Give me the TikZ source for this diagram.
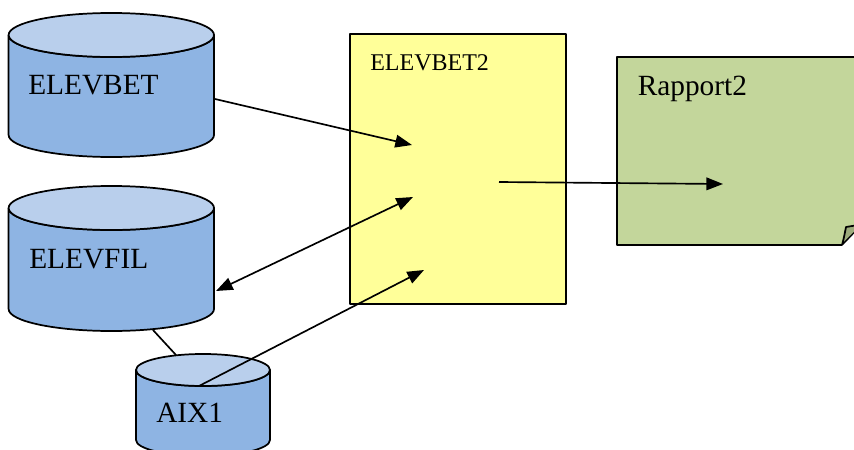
\documentclass[tikz,border=0pt]{standalone}
\usepackage{fontspec}
\setmainfont{Liberation Serif}
\usetikzlibrary{arrows.meta}
\definecolor{cylside}{HTML}{8EB4E3}
\definecolor{cyltop}{HTML}{B9CFEC}
\definecolor{notefill}{HTML}{C3D69B}
\definecolor{foldfill}{HTML}{9CAB7C}
\definecolor{boxfill}{HTML}{FFFF99}
\tikzset{
  outline/.style={draw=black,line width=1.3pt,line join=round},
  label/.style={anchor=base west,inner sep=0pt,text=black,font=\fontsize{22pt}{24pt}\selectfont},
  smalllabel/.style={label,font=\fontsize{18pt}{20pt}\selectfont},
  link/.style={draw=black,line width=1.25pt},
  arrow/.style={link,-{Triangle[length=12.5pt,width=9.5pt]}},
  biarrow/.style={link,{Triangle[length=12.5pt,width=9.5pt]}-{Triangle[length=12.5pt,width=9.5pt]}}
}
\newcommand{\cyl}[6]{%
  \path[fill=cylside,outline] ({#2-#3},#4) -- ({#2-#3},#5)
    arc[start angle=180,end angle=0,x radius=#3,y radius=#6]
    -- ({#2+#3},#4) arc[start angle=0,end angle=180,x radius=#3,y radius=#6] -- cycle;
  \path[fill=cyltop,outline] (#2,#4) ellipse[x radius=#3,y radius=#6];
  \node[inner sep=0pt,minimum size=0pt] (#1) at (#2,#4) {};
}
\begin{document}
\begin{tikzpicture}[x=0.75pt,y=-0.75pt]
\useasboundingbox (0,0) rectangle (854,450);
\clip (0,0) rectangle (854,450);
\fill[white] (0,0) rectangle (854,450);

\cyl{cylA}{111.3}{102.7}{35}{135}{22}
\cyl{cylB}{111.3}{102.7}{208}{309}{22}
\cyl{cylC}{203}{67}{370}{440}{16}

\path[fill=boxfill,outline] (350,34) rectangle (566,304);
\node[inner sep=0pt] (box) at (458,169) {};

\fill[notefill] (617,57) -- (870,57) -- (870,217) -- (842,245) -- (617,245) -- cycle;
\draw[outline] (870,57) -- (617,57) -- (617,245) -- (842,245);
\path[fill=foldfill,outline] (842,245) .. controls (844,238) and (845,232) .. (846,227) -- (870,223) -- (870,217) -- cycle;
\fill[white] (842.8,245.8) -- (870,217) -- (870,250) -- cycle;
\node[inner sep=0pt] (note) at (735,151) {};

\node[label] (tA) at (28,94) {ELEVBET};
\node[label] (tB) at (29,268) {ELEVFIL};
\node[label] (tC) at (156,422) {AIX1};
\node[smalllabel] (tD) at (370,70) {ELEVBET2};
\node[label] (tE) at (637.5,95) {Rapport2};

\coordinate (a1) at (215,99);
\coordinate (a2) at (412,145);
\coordinate (b1) at (216,291);
\coordinate (b2) at (413,197);
\coordinate (c1) at (153,330);
\coordinate (c2) at (176,355);
\coordinate (d1) at (199,386);
\coordinate (d2) at (424,270);
\coordinate (e1) at (499,182);
\coordinate (e2) at (723,184);

\draw[arrow] (a1) -- (a2);
\draw[biarrow] (b1) -- (b2);
\draw[link] (c1) -- (c2);
\draw[arrow] (d1) -- (d2);
\draw[arrow] (e1) -- (e2);
\end{tikzpicture}
\end{document}
